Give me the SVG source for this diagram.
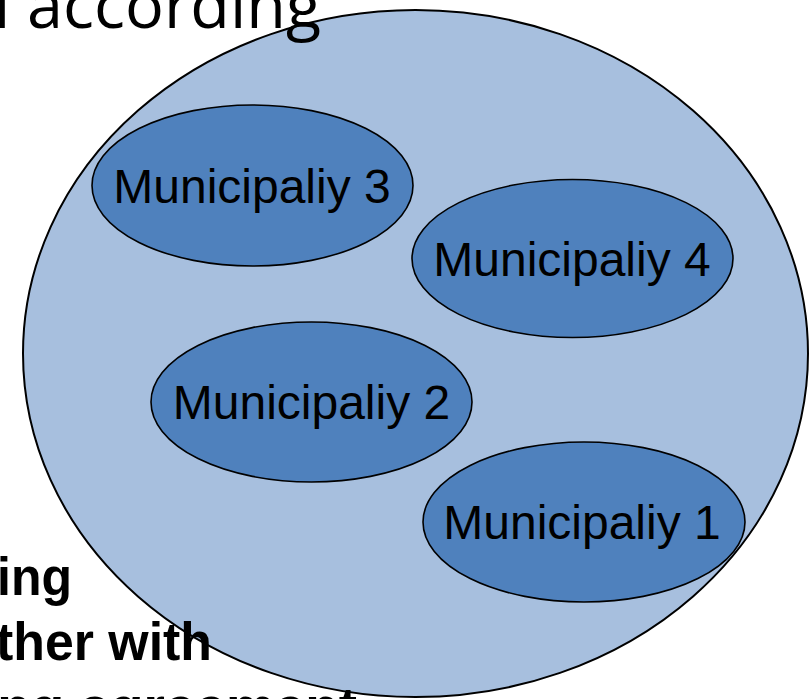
<svg xmlns="http://www.w3.org/2000/svg" width="811" height="699" viewBox="0 0 811 699">
<style>
.outer{fill:#A7BFDE;stroke:#000;stroke-width:2}
.muni{fill:#4F81BD;stroke:#000;stroke-width:1.6}
.lbl{font-family:"Liberation Sans",Arial,sans-serif;font-size:48px;fill:#000;text-anchor:middle}
.big{font-family:"Open Sans","Noto Sans",sans-serif;font-size:64px;fill:#000}
.bold{font-family:"Liberation Sans",Arial,sans-serif;font-size:54px;font-weight:bold;fill:#000}
</style>
<rect width="811" height="699" fill="#fff"/>
<g id="region">
<ellipse class="outer" cx="415.5" cy="353.5" rx="392.5" ry="343.5"/>
</g>
<g id="municipality3">
<ellipse class="muni" cx="252.5" cy="185.5" rx="160.5" ry="80.5"/>
<text class="lbl" x="252" y="203">Municipaliy 3</text>
</g>
<g id="municipality4">
<ellipse class="muni" cx="572.5" cy="258.5" rx="160.5" ry="79"/>
<text class="lbl" x="572" y="276">Municipaliy 4</text>
</g>
<g id="municipality2">
<ellipse class="muni" cx="311.5" cy="402" rx="160.5" ry="80"/>
<text class="lbl" x="311.5" y="419">Municipaliy 2</text>
</g>
<g id="municipality1">
<ellipse class="muni" cx="584" cy="522" rx="161" ry="80"/>
<text class="lbl" x="582" y="539">Municipaliy 1</text>
</g>
<g id="connectors"/>
<g id="background-text">
<text class="big" x="-6" y="28" textLength="327" lengthAdjust="spacingAndGlyphs">l according</text>
<text class="bold" x="-3" y="595" textLength="75" lengthAdjust="spacingAndGlyphs">ing</text>
<text class="bold" x="-4" y="660" textLength="216" lengthAdjust="spacingAndGlyphs">ther with</text>
<text class="bold" x="-18" y="725" textLength="375" lengthAdjust="spacingAndGlyphs">ing agreement</text>
</g>
</svg>
